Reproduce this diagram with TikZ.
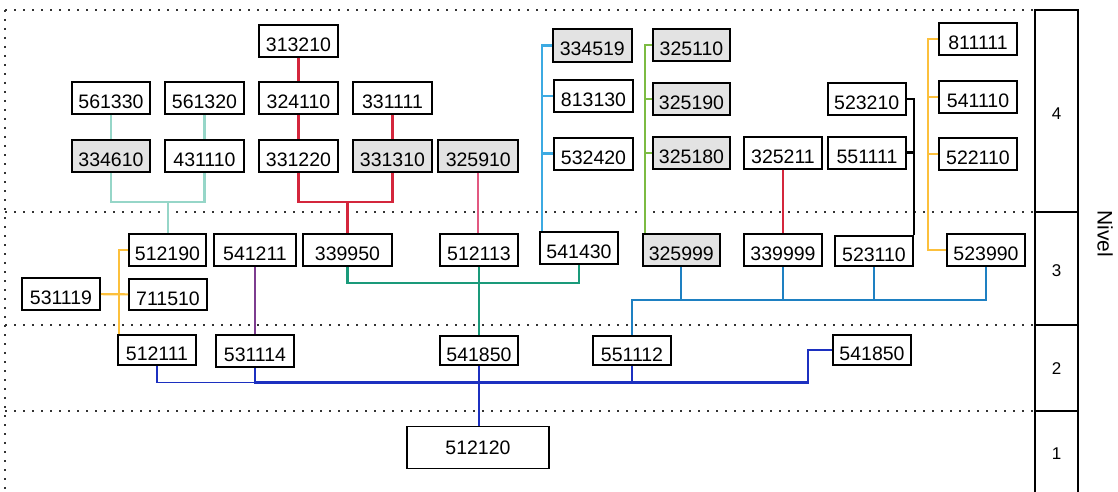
\documentclass[tikz,border=0pt]{standalone}
\usepackage{fontspec}
\setmainfont{Liberation Sans}
\usetikzlibrary{calc}
\definecolor{boxgray}{RGB}{227,227,227}
\definecolor{cTealL}{RGB}{150,214,200}
\definecolor{cRed}{RGB}{212,38,60}
\definecolor{cPink}{RGB}{226,88,128}
\definecolor{cLBlue}{RGB}{60,170,226}
\definecolor{cGreen}{RGB}{124,187,66}
\definecolor{cOrange}{RGB}{252,192,60}
\definecolor{cTeal}{RGB}{26,154,122}
\definecolor{cPurple}{RGB}{125,60,143}
\definecolor{cMBlue}{RGB}{30,128,194}
\definecolor{cDBlue}{RGB}{28,48,192}
\tikzset{
  bx/.style={draw=black, line width=2pt, fill=white, minimum width=79pt, minimum height=32pt,
    inner sep=0pt, text height=21pt, text depth=0pt, font=\fontsize{19.5}{20}\selectfont},
  gbx/.style={bx, fill=boxgray},
  bigbx/.style={draw=black, line width=1.5pt, fill=white, minimum width=142pt, minimum height=42pt,
    inner sep=0pt, text height=14pt, text depth=0pt, font=\fontsize{19.5}{20}\selectfont},
  grid/.style={line width=1.7pt, dash pattern=on 1.7pt off 7.3pt, black!80},
  conn/.style={line width=2.1pt},
  lvl/.style={font=\fontsize{17}{18}\selectfont},
}
\begin{document}
\begin{tikzpicture}[x=1pt, y=-1pt]
\useasboundingbox (0,0) rectangle (1118,492);
% grid
\draw[grid] (5,10) -- (1035,10);
\draw[grid] (5,212) -- (1035,212);
\draw[grid] (5,325) -- (1035,325);
\draw[grid] (5,411) -- (1035,411);
\draw[grid] (5,10) -- (5,495);
% level column
\draw[line width=2pt] (1035,500) -- (1035,10) -- (1078,10) -- (1078,500);
\draw[line width=2pt] (1035,212) -- (1078,212);
\draw[line width=2pt] (1035,325) -- (1078,325);
\draw[line width=2pt] (1035,411) -- (1078,411);
\node[lvl] (l4) at (1056.5,114) {4};
\node[lvl] (l3) at (1056.5,271) {3};
\node[lvl] (l2) at (1056.5,369) {2};
\node[lvl] (l1) at (1056.5,454) {1};
\node[rotate=-90, font=\fontsize{21}{22}\selectfont] (niv) at (1105,234) {Nivel};

% ---- nodes ----
% level 4
\node[bx] (n313210) at (298.5,41) {313210};
\node[bx, minimum width=78pt] (n561330) at (111,98) {561330};
\node[bx] (n561320) at (204.5,98) {561320};
\node[bx] (n324110) at (298.5,98) {324110};
\node[bx] (n331111) at (392.5,98) {331111};
\node[gbx, minimum width=78pt] (n334610) at (111,156) {334610};
\node[bx] (n431110) at (204.5,156) {431110};
\node[bx] (n331220) at (298.5,156) {331220};
\node[gbx] (n331310) at (392.5,156) {331310};
\node[gbx, minimum width=80pt] (n325910) at (478.3,156) {325910};
\node[gbx, minimum height=33pt] (n334519) at (592.3,45.5) {334519};
\node[bx] (n813130) at (593.5,96) {813130};
\node[bx] (n532420) at (593.5,153.5) {532420};
\node[gbx, minimum width=77pt] (n325110) at (691.5,45) {325110};
\node[gbx, minimum width=77pt] (n325190) at (691.5,99) {325190};
\node[gbx, minimum width=77pt] (n325180) at (691.5,153) {325180};
\node[bx, minimum width=78pt] (n523210) at (866.7,99) {523210};
\node[bx, minimum width=78pt] (n551111) at (867,152.5) {551111};
\node[bx, minimum width=78pt] (n325211) at (783,152.5) {325211};
\node[bx, minimum width=78pt] (n811111) at (978,39) {811111};
\node[bx, minimum width=78pt] (n541110) at (978,97) {541110};
\node[bx, minimum width=78pt] (n522110) at (978,154) {522110};
% level 3
\node[bx, minimum width=77pt] (n512190) at (167.5,250) {512190};
\node[bx, minimum width=82pt] (n541211) at (255,250) {541211};
\node[bx, minimum width=89pt] (n339950) at (347.5,250) {339950};
\node[bx, minimum width=78pt] (n512113) at (479,250) {512113};
\node[bx, minimum width=78pt] (n541430) at (579,248) {541430};
\node[gbx, minimum width=77pt] (n325999) at (681.3,250) {325999};
\node[bx, minimum width=78pt] (n339999) at (783,250) {339999};
\node[bx, minimum width=78pt, minimum height=30.5pt] (n523110) at (874,251) {523110};
\node[bx, minimum width=78pt] (n523990) at (986,250) {523990};
\node[bx, minimum width=78pt] (n531119) at (61,294) {531119};
\node[bx, minimum width=78pt, minimum height=31pt] (n711510) at (168,294.5) {711510};
% level 2
\node[bx, minimum width=78pt, minimum height=30.5pt] (n512111) at (157,350) {512111};
\node[bx, minimum width=78pt] (n531114) at (255,351) {531114};
\node[bx, minimum width=78pt, minimum height=29.5pt] (n541850a) at (479,350.5) {541850};
\node[bx, minimum width=78pt, minimum height=29.5pt] (n551112) at (632,350.5) {551112};
\node[bx, minimum width=78pt, minimum height=30pt] (n541850b) at (872,350) {541850};
% level 1
\node[bigbx] (n512120) at (478,447.7) {512120};

% coordinates for connectors
\coordinate (jA) at (168,202);
\coordinate (jB) at (347.5,202);
\coordinate (bl) at (542,0);
\coordinate (gl) at (645,0);
\coordinate (ol) at (928,0);
\coordinate (oll) at (119,0);
\coordinate (jC) at (479,283);
\coordinate (bh) at (0,300);
\coordinate (dh) at (0,382.5);
\coordinate (kk) at (808,382.5);

% ---- connectors ----
% light teal
\draw[conn, cTealL] (n561330) -- (n334610);
\draw[conn, cTealL] (n561320) -- (n431110);
\draw[conn, cTealL] (n334610.south) |- (jA) -| (n431110.south);
\draw[conn, cTealL] (jA) -- (jA |- n512190.north);
% red
\draw[conn, cRed] (n313210) -- (n324110);
\draw[conn, cRed] (n324110) -- (n331220);
\draw[conn, cRed] (n331111) -- (n331310);
\draw[conn, cRed] (n331220.south) |- (jB) -| (n331310.south);
\draw[conn, cRed] (jB) -- (jB |- n339950.north);
% pink
\draw[conn, cPink] (n325910.south) -- (n325910.south |- n512113.north);
% light blue
\draw[conn, cLBlue] (n334519.west) -| (bl |- n541430.north);
\draw[conn, cLBlue] (n813130.west) -- (bl |- n813130.west);
\draw[conn, cLBlue] (n532420.west) -- (bl |- n532420.west);
% green
\draw[conn, cGreen] (n325110.west) -| (gl |- n325999.north);
\draw[conn, cGreen] (n325190.west) -- (gl |- n325190.west);
\draw[conn, cGreen] (n325180.west) -- (gl |- n325180.west);
% orange right
\draw[conn, cOrange] (n811111.west) -| (ol |- n523990.west) -- (n523990.west);
\draw[conn, cOrange] (n541110.west) -- (ol |- n541110.west);
\draw[conn, cOrange] (n522110.west) -- (ol |- n522110.west);
% black
\draw[conn, black] (n523210.east) -| (n523110.north east);
\draw[conn, black] (n551111.east) -- (n551111.east -| n523110.north east);
% thin red
\draw[line width=1.4pt, cRed] (n325211) -- (n339999);
% orange left
\draw[conn, cOrange] (n512190.west) -| (oll |- n512111.north);
\draw[conn, cOrange] (n531119) -- (n711510);
% purple
\draw[conn, cPurple] (n541211) -- (n531114);
% teal
\draw[conn, cTeal] (n339950.south) |- (jC) -| (n541430.south);
\draw[conn, cTeal] (n512113) -- (n541850a);
% medium blue
\draw[conn, cMBlue] (n551112.north) |- (bh -| n523990.south) -- (n523990.south);
\draw[conn, cMBlue] (n325999.south) -- (n325999.south |- bh);
\draw[conn, cMBlue] (n339999.south) -- (n339999.south |- bh);
\draw[conn, cMBlue] (n523110.south) -- (n523110.south |- bh);
% dark blue
\draw[line width=1.5pt, cDBlue] (n512111.south) |- (dh -| n531114.south);
\draw[conn, cDBlue] (n531114.south) |- (kk) |- (n541850b.west);
\draw[conn, cDBlue] (n541850a.south) -- (n541850a.south |- n512120.north);
\draw[conn, cDBlue] (n551112.south) -- (n551112.south |- dh);
\end{tikzpicture}
\end{document}
